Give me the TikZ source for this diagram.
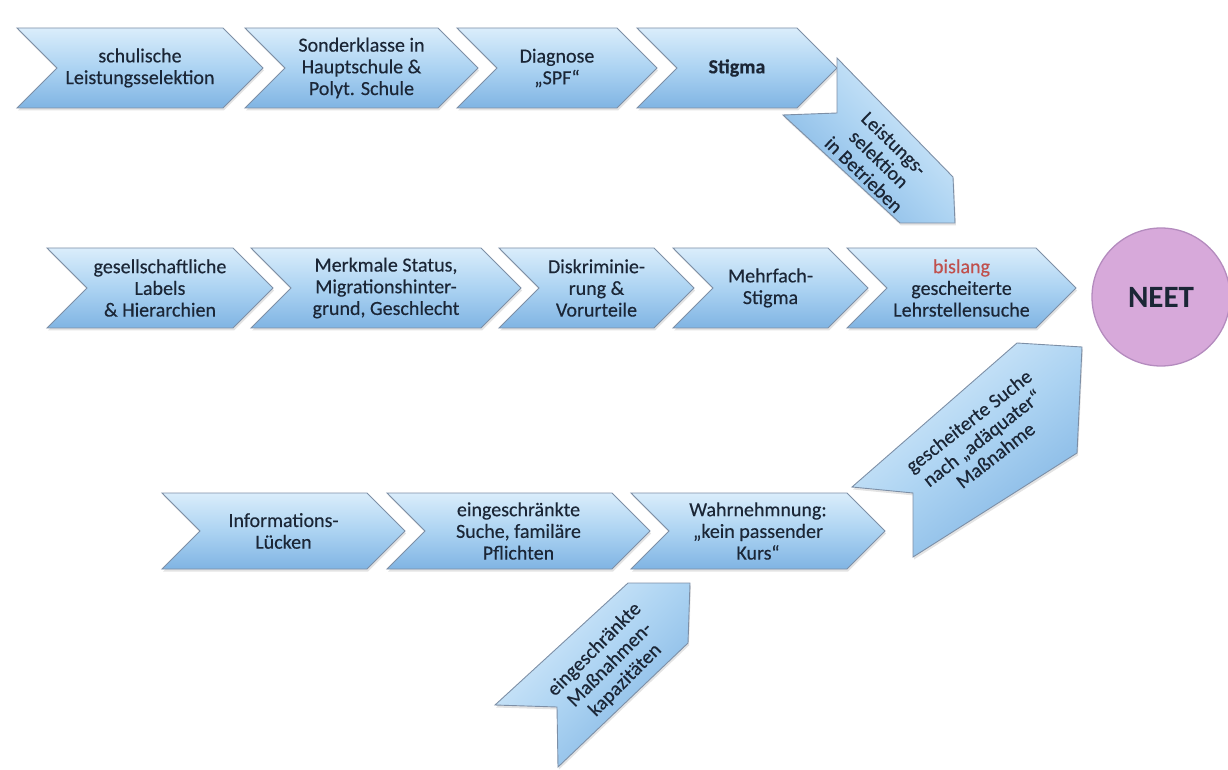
\documentclass[tikz,border=0pt]{standalone}
\usepackage{fontspec}
\setmainfont{Carlito}
\newfontfamily\lblfont{Carlito}[FakeBold=0.3]
\usetikzlibrary{shadows}

\definecolor{chevtop}{HTML}{DAEDFB}
\definecolor{chevmid}{HTML}{ACD3F2}
\definecolor{chevbot}{HTML}{80B4E3}
\definecolor{chevline}{HTML}{7D8FA6}
\definecolor{ink}{HTML}{1B2636}
\definecolor{alert}{HTML}{C0504D}
\definecolor{neetfill}{HTML}{D7A9DA}
\definecolor{neetline}{HTML}{B48BBE}

\tikzset{
  chev/.style={draw=chevline, line width=0.9pt, line join=miter,
    top color=chevtop, bottom color=chevbot, middle color=chevmid,
    drop shadow={opacity=0.22, shadow xshift=1pt, shadow yshift=-2.5pt}},
  lbl/.style={font=\lblfont\fontsize{20}{21.7}\selectfont, text=ink,
    align=center, inner sep=0pt},
  goal/.style={circle, draw=neetline, line width=1.3pt, fill=neetfill,
    minimum size=138pt, inner sep=0pt,
    font=\fontsize{31}{35}\selectfont\bfseries, text=ink},
}

% horizontal chevron: name, left x, right x, centre y, half height, text
\newcommand\chevbox[6]{%
  \draw[chev] (#2,#4+#5) -- (#3,#4+#5) -- (#3+#5,#4) -- (#3,#4-#5)
    -- (#2,#4-#5) -- (#2+#5,#4) -- cycle;
  \node[lbl] (#1) at ({(#2+#3+#5)/2},#4) {#6};
}

\begin{document}
\begin{tikzpicture}[x=1pt,y=1pt]
\useasboundingbox (0,0) rectangle (1228,769);

% upper chain
\chevbox{schule}{17}{223}{701}{40}{schulische\\Leistungsselektion}
\chevbox{sonder}{245}{438}{701}{40}{Sonderklasse in\\Hauptschule \&\\Polyt. Schule}
\chevbox{spf}{457}{617}{701}{40}{Diagnose\\„SPF“}
\chevbox{stigma}{637}{797}{701}{40}{\bfseries Stigma}

% turn downwards: selection in companies
\draw[chev, shading angle=-45] (837,711) -- (953,592) -- (955,546)
  -- (900,546) -- (783,654) -- (837,656) -- cycle;
\node[lbl, rotate=-44] (betriebe) at (879,610) {Leistungs-\\selektion\\in Betrieben};

% middle chain
\chevbox{labels}{47}{233}{481}{40}{gesellschaftliche\\Labels\\\& Hierarchien}
\chevbox{merkmale}{251}{481}{481}{40}{Merkmale Status,\\Migrationshinter-\\grund, Geschlecht}
\chevbox{diskr}{499}{654}{481}{40}{Diskriminie-\\rung \&\\Vorurteile}
\chevbox{mehrfach}{673}{828}{481}{40}{Mehrfach-\\Stigma}
\chevbox{lehrstelle}{847}{1036}{481}{40}{\color{alert}bislang\\gescheiterte\\Lehrstellensuche}

% lower chain
\chevbox{info}{162}{367}{238}{38}{Informations-\\Lücken}
\chevbox{suche}{387}{612}{238}{38}{eingeschränkte\\Suche, familäre\\Pflichten}
\chevbox{kurs}{631}{847}{238}{38}{Wahrnehmnung:\\„kein passender\\Kurs“}

% turn upwards: failed search for a suitable measure
\draw[chev, shading angle=38] (852,282) -- (1017,426) -- (1082,422)
  -- (1077,316) -- (913,212) -- (913,276) -- cycle;
\node[lbl, rotate=38] (massnahme) at (982,331) {gescheiterte Suche\\nach „adäquater“\\Maßnahme};

% limited capacities feeding in from below
\draw[chev, shading angle=45] (628,186) -- (690,186) -- (688,126)
  -- (558,2) -- (557,62) -- (495,64) -- cycle;
\node[lbl, rotate=45] (kapaz) at (610,104) {eingeschränkte\\Maßnahmen-\\kapazitäten};

% outcome
\node[goal] (neet) at (1161,472) {NEET};

\end{tikzpicture}
\end{document}
